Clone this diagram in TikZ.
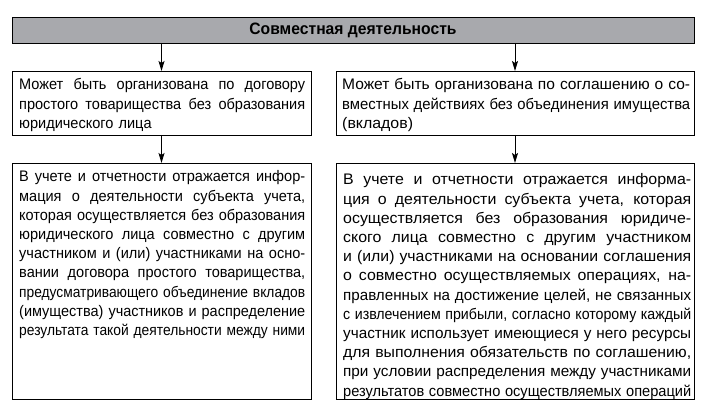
\documentclass[tikz,border=0pt]{standalone}
\usepackage{fontspec}
\setmainfont{Liberation Sans}[FakeStretch=0.95]
\newfontfamily\widefont{Liberation Sans}[FakeStretch=1.04]
\usetikzlibrary{arrows.meta}
\definecolor{titlegray}{RGB}{168,169,173}
\newlength\jw
\newsavebox\jbox
\newcommand\jline[1]{{\sbox\jbox{#1}%
  \ifdim\wd\jbox>\jw
    \resizebox{\jw}{\height}{\usebox\jbox}%
  \else
    \spaceskip=0.26em plus 1fil\relax\xspaceskip=\spaceskip
    \hbox to\jw{#1}%
  \fi}\par}
\newcommand\eline[1]{\mbox{#1}\par}
\begin{document}
\begin{tikzpicture}[x=1pt,y=-1pt,
  frame/.style={draw=black, line width=0.9pt, inner sep=0pt, outer sep=0pt, anchor=north west},
  txt/.style={anchor=base west, inner sep=0pt, font=\fontsize{15.3}{19.2}\selectfont},
  wtxt/.style={txt, font=\fontsize{15.3}{19.2}\selectfont\widefont},
  arr/.style={draw=black, line width=0.9pt, -{Stealth[length=10pt,width=6pt,inset=2pt]}}]
\useasboundingbox (0,0) rectangle (707,403);
\fill[white] (0,0) rectangle (707,403);

\node[frame, fill=titlegray, minimum width=682pt, minimum height=26pt,
      font=\fontsize{16.5}{18}\selectfont\bfseries] (title) at (12,17) {Совместная деятельность};

\node[frame, minimum width=299pt, minimum height=64pt] (L1) at (12,71) {};
\node[frame, minimum width=358pt, minimum height=64pt] (R1) at (336,71) {};
\node[frame, minimum width=299pt, minimum height=236pt] (L2) at (12,163) {};
\node[frame, minimum width=358pt, minimum height=236pt] (R2) at (336,163) {};

\node[txt, text width=286pt] (L1t) at (19,90) {\setlength\jw{286pt}%
\jline{Может быть организована по договору}
\jline{простого товарищества без образования}
\eline{юридического лица}};

\node[wtxt, text width=348pt] (R1t) at (342,90) {\setlength\jw{348pt}%
\jline{Может быть организована по соглашению о со-}
\jline{вместных действиях без объединения имущества}
\eline{(вкладов)}};

\node[txt, text width=286pt] (L2t) at (19,182) {\setlength\jw{286pt}%
\jline{В учете и отчетности отражается инфор-}
\jline{мация о деятельности субъекта учета,}
\jline{которая осуществляется без образования}
\jline{юридического лица совместно с другим}
\jline{участником и (или) участниками на осно-}
\jline{вании договора простого товарищества,}
\jline{предусматривающего объединение вкладов}
\jline{(имущества) участников и распределение}
\jline{результата такой деятельности между ними}};

\node[wtxt, text width=348pt] (R2t) at (343,185) {\setlength\jw{348pt}%
\jline{В учете и отчетности отражается информа-}
\jline{ция о деятельности субъекта учета, которая}
\jline{осуществляется без образования юридиче-}
\jline{ского лица совместно с другим участником}
\jline{и (или) участниками на основании соглашения}
\jline{о совместно осуществляемых операциях, на-}
\jline{правленных на достижение целей, не связанных}
\jline{с извлечением прибыли, согласно которому каждый}
\jline{участник использует имеющиеся у него ресурсы}
\jline{для выполнения обязательств по соглашению,}
\jline{при условии распределения между участниками}
\jline{результатов совместно осуществляемых операций}};

\draw[arr] (L1.north |- title.south) -- (L1.north);
\draw[arr] (R1.north |- title.south) -- (R1.north);
\draw[arr] (L1.south) -- (L2.north);
\draw[arr] (R1.south) -- (R2.north);
\end{tikzpicture}
\end{document}
